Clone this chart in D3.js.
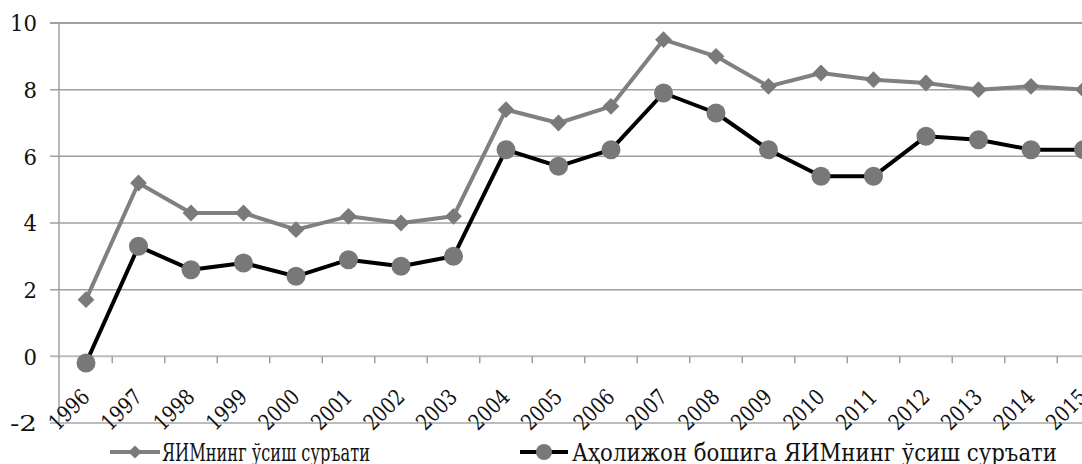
<!DOCTYPE html>
<html>
<head>
<meta charset="utf-8">
<script src="https://cdn.jsdelivr.net/npm/d3@7"></script>
<style>
  html, body { margin: 0; padding: 0; background: #fff; overflow: hidden; }
  svg { display: block; }
</style>
</head>
<body>
<svg id="chart" width="1082" height="464"></svg>
<script>
const years = ["1996","1997","1998","1999","2000","2001","2002","2003","2004","2005",
               "2006","2007","2008","2009","2010","2011","2012","2013","2014","2015"];
const gdpGrowth = [1.7,5.2,4.3,4.3,3.8,4.2,4.0,4.2,7.4,7.0,7.5,9.5,9.0,8.1,8.5,8.3,8.2,8.0,8.1,8.0];
const gdpPerCapitaGrowth = [-0.2,3.3,2.6,2.8,2.4,2.9,2.7,3.0,6.2,5.7,6.2,7.9,7.3,6.2,5.4,5.4,6.6,6.5,6.2,6.2];
const yTicks = [-2,0,2,4,6,8,10];
const seriesNames = ["ЯИМнинг ўсиш суръати", "Аҳолижон бошига ЯИМнинг ўсиш суръати"];

const FONT = "DejaVu Serif";
const svg = d3.select("#chart");
const x0 = 59.75, band = 52.5;
const x = d3.scaleBand().domain(years).range([x0, x0 + band * years.length]).padding(0);
const y = d3.scaleLinear().domain([-2, 10]).range([423, 23]);
const cx = d => x(d) + x.bandwidth() / 2;

// gridlines
svg.append("g").selectAll("line").data(yTicks).join("line")
  .attr("x1", 50).attr("x2", 1082)
  .attr("y1", d => y(d)).attr("y2", d => y(d))
  .attr("stroke", d => d === 0 || d === -2 ? "#bcbcbc" : "#a0a0a0")
  .attr("stroke-width", d => d === 0 || d === -2 || d === 10 ? 2 : 1.5);

// y axis line
svg.append("line").attr("x1", 59).attr("x2", 59).attr("y1", y(10)).attr("y2", y(-2))
  .attr("stroke", "#a0a0a0").attr("stroke-width", 1.5);

// y labels
svg.append("g").selectAll("text").data(yTicks).join("text")
  .attr("font-family", FONT)
  .attr("x", 37).attr("y", d => y(d)).attr("dy", "0.36em")
  .attr("text-anchor", "end").attr("font-size", 23).attr("fill", "#111")
  .attr("textLength", d => String(d).length * 13.5).attr("lengthAdjust", "spacingAndGlyphs")
  .text(d => d);

// x tick marks at band boundaries
const bounds = years.slice(1).map(d => x(d));
svg.append("g").selectAll("line").data(bounds).join("line")
  .attr("x1", d => d).attr("x2", d => d)
  .attr("y1", y(0)).attr("y2", y(0) + 7)
  .attr("stroke", "#a0a0a0").attr("stroke-width", 1.5);

// x labels (rotated -45°)
const c45 = Math.SQRT1_2;
svg.append("g").selectAll("text").data(years).join("text")
  .attr("font-family", FONT)
  .attr("text-anchor", "end")
  .attr("font-size", 22).attr("fill", "#111")
  .attr("transform", d => `matrix(${c45},${-c45},${c45},${c45},${cx(d) + 5},${y(0) + 42})`)
  .attr("textLength", 47).attr("lengthAdjust", "spacingAndGlyphs")
  .text(d => d);

// series 1: gray line with diamonds
const line = d3.line().x((d, i) => cx(years[i])).y(d => y(d));
svg.append("path").datum(gdpGrowth).attr("d", line)
  .attr("fill", "none").attr("stroke", "#808080").attr("stroke-width", 4)
  .attr("stroke-linejoin", "round");
const diamond = d3.symbol().type(d3.symbolDiamond2).size(180);
svg.append("g").selectAll("path").data(gdpGrowth).join("path")
  .attr("d", diamond)
  .attr("transform", (d, i) => `translate(${cx(years[i])},${y(d)})`)
  .attr("fill", "#7a7a7a");

// series 2: black line with gray circles
svg.append("path").datum(gdpPerCapitaGrowth).attr("d", line)
  .attr("fill", "none").attr("stroke", "#000").attr("stroke-width", 4)
  .attr("stroke-linejoin", "round");
svg.append("g").selectAll("circle").data(gdpPerCapitaGrowth).join("circle")
  .attr("cx", (d, i) => cx(years[i])).attr("cy", d => y(d)).attr("r", 9.5)
  .attr("fill", "#787878");

// legend
const lg = svg.append("g");
const legendY = 452;
lg.append("line").attr("x1", 110).attr("x2", 160).attr("y1", legendY).attr("y2", legendY)
  .attr("stroke", "#808080").attr("stroke-width", 4);
lg.append("path").attr("d", d3.symbol().type(d3.symbolDiamond2).size(110))
  .attr("transform", `translate(135,${legendY})`).attr("fill", "#7a7a7a");
lg.append("text").attr("font-family", FONT).attr("x", 162).attr("y", legendY).attr("dy", "0.36em")
  .attr("font-size", 24).attr("fill", "#111")
  .attr("textLength", 208).attr("lengthAdjust", "spacingAndGlyphs")
  .text(seriesNames[0]);
lg.append("line").attr("x1", 520).attr("x2", 568).attr("y1", legendY).attr("y2", legendY)
  .attr("stroke", "#000").attr("stroke-width", 4);
lg.append("circle").attr("cx", 544).attr("cy", legendY).attr("r", 8).attr("fill", "#787878");
lg.append("text").attr("font-family", FONT).attr("x", 572).attr("y", legendY).attr("dy", "0.36em")
  .attr("font-size", 24).attr("fill", "#111")
  .attr("textLength", 485).attr("lengthAdjust", "spacingAndGlyphs")
  .text(seriesNames[1]);
</script>
</body>
</html>
